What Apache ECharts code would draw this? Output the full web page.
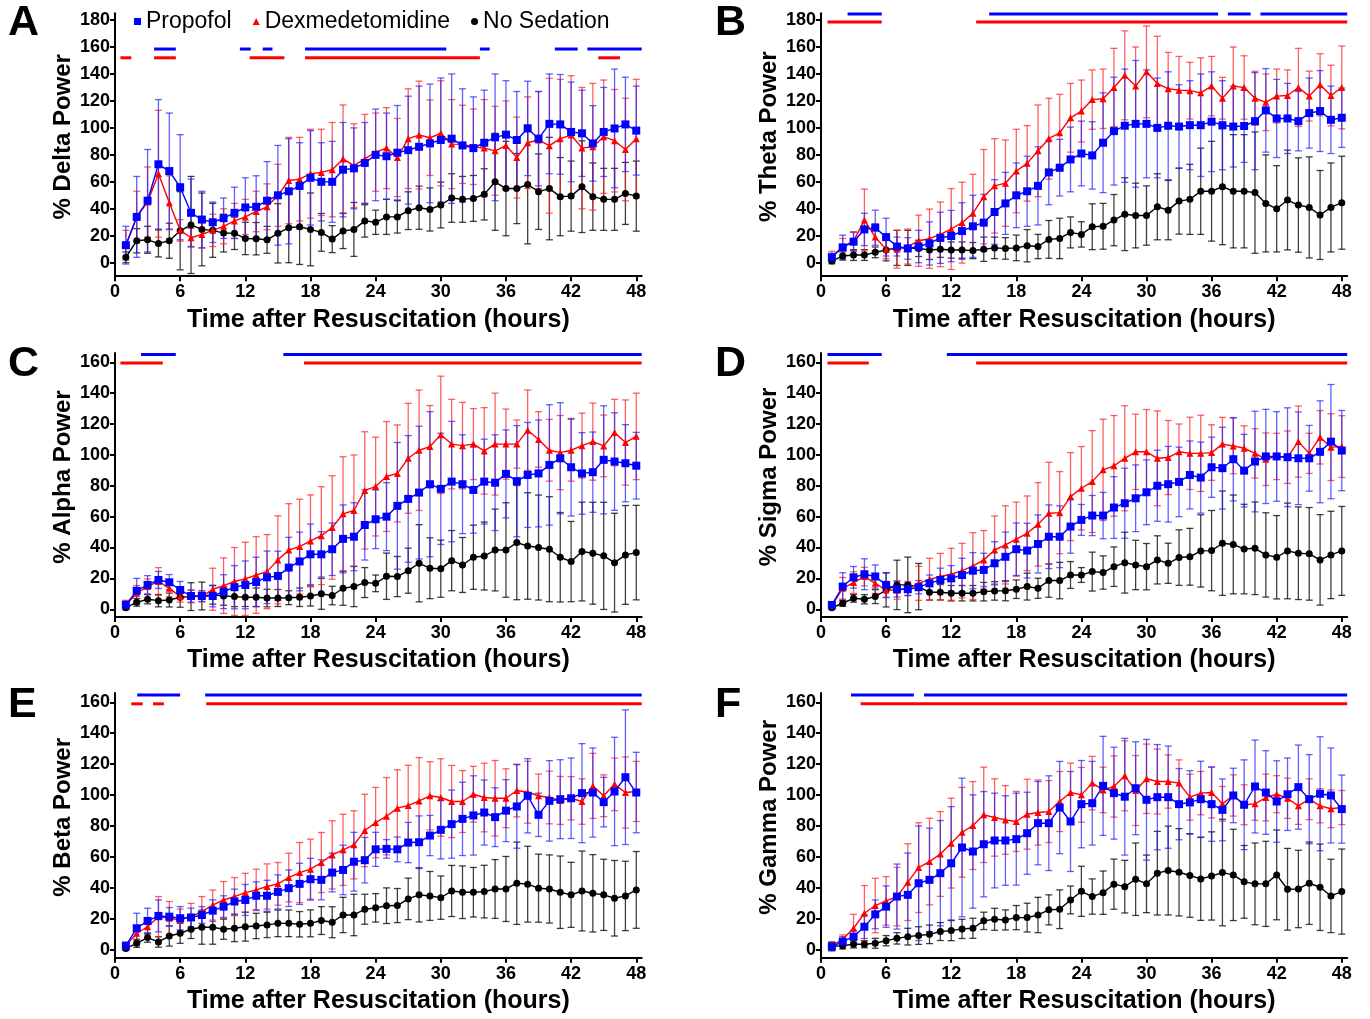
<!DOCTYPE html>
<html><head><meta charset="utf-8">
<script src="https://cdn.jsdelivr.net/npm/echarts@6/dist/echarts.min.js"></script>
<style>html,body{margin:0;padding:0;background:#fff}#c{width:1370px;height:1019px}</style>
</head><body><div id="c"></div>
<script>
const hours = [1,2,3,4,5,6,7,8,9,10,11,12,13,14,15,16,17,18,19,20,21,22,23,24,25,26,27,28,29,30,31,32,33,34,35,36,37,38,39,40,41,42,43,44,45,46,47,48];
const xTicks = [0,6,12,18,24,30,36,42,48];
const yTicks180 = [0,20,40,60,80,100,120,140,160,180];
const yTicks160 = [0,20,40,60,80,100,120,140,160];

// Panel A: Delta
const deltaProp = [13,34,46,73,68,56,37,32,30,33,37,41,41.5,46,50,53,57,63,60,60,69,70,74,80,79,81.6,83.5,86,88.5,91,92,87,85,89,93,95,91,99.6,92,103,102.6,97,96,88.5,97,99.6,102.6,98];
const deltaPropSD = [14,30,38,48,43,39,25,21,15,15,19,22,23,29,37,39,32,35,29,30,35,30,30,34,32,35,40,45,44,46,48,42,38,39,47,40,36,35,35,37,37,37,32,28,33,44,35,33];
const deltaDex = [13,34,45,66,44.5,24,18.5,21,24,27,31,34,38,41.5,50,61,62,66,67,69,77,72,77,82,85,78,92,94.7,92.7,96,88,87.8,86,85,83,87,78,89,91,86.8,92,94.7,85,86,93.5,90.5,84,92];
const deltaDexSD = [11,19,26,47,20,8,7,10,12,13,13,13,15,17,23,32,31,33,32,35,40,31,33,29,30,29,37,40,28,39,33,29,28,36,33,33,30,34,36,50,44,44,45,47,42,38,38,44];
const deltaNoSed = [4,16.3,17,14.3,16.3,23.7,28,24.7,24,22,21.8,18,17.8,17,21.8,26,26.7,24.7,22.5,17.5,23.5,24.7,31,30,34,34,38.6,40.8,39.5,42.8,48,47,47.7,50.7,60,55,55,58,52.7,55,49,49.4,56.4,49,47,47,51.4,49.4];
const deltaNoSedSD = [4,9,10,10,13,29,36,27,20,14,12,12,12,10,22,26,28,27,14,10,13,20,12,9,13,12,14,16,16,17,18,17,17,19,36,35,26,44,28,38,29,26,34,25,23,23,23,26];
const deltaSigProp = [[3.6,5.6],[11.5,12.5],[13.6,14.5],[17.5,30.5],[33.6,34.5],[40.5,42.6],[43.5,48.5]];
const deltaSigDex = [[0.5,1.5],[3.6,5.6],[12.4,15.6],[17.5,33.6],[44.5,46.5]];

// Panel B: Theta
const thetaProp = [4,11.4,15.6,24.7,26,19,12,10.6,12,14.3,18.5,19.8,23.5,27,29.7,37.6,44,50,53,57,67,70.5,76.6,81,79.6,89,97.6,101.6,103,103,100,101.6,101,102,102,104.6,102,101,101.4,105,113,107,107,105,111,112.5,106,107.5];
const thetaPropSD = [3,9,7,12,13,14,7,8,12,16,19,19,21,23,21,24,23,24,26,29,24,21,24,24,25,37,40,42,47,40,37,40,31,33,38,37,33,30,27,36,31,29,26,22,26,30,25,22];
const thetaDex = [4.5,12,16,31.6,19,10,10,12,16.3,17.8,21,25,29.7,36.6,49,57,59,68,73.7,83,92,96.4,107.5,112.5,121,121.6,130,139,131,141.6,133,129,128,127.6,126,131,122,131,130,122,119,123.6,124,130,123.6,132,124,130];
const thetaDexSD = [4,6,7,23,10,7,14,13,19,22,24,30,30,29,35,35,32,31,28,34,30,28.5,25.5,23,22,22,29,33,29,34,35,27,25,21,26,22,15.5,29,23.5,20,21,20,19,29,18.5,23,22.5,30.7];
const thetaNoSed = [1.2,5,5.7,5.7,7.7,9.4,11,11,10.6,9.4,10,9.4,9.4,9,10,11,10.6,11,12.6,12,17.3,18,22.5,21,26.7,27,31.6,36,35,35,41.5,39,45.7,47,53,53,56.4,53,53,52,44,40,46.5,42.8,41,35.4,41,44.5];
const thetaNoSedSD = [2,3,4,4,4,8,13,13,6,7,6,6,6,6,9,8,8,9.5,12,9,14,15,11.5,9.4,17,17,19,27,24,22,24.5,22,24.5,26,32,37,43,42,42,45,36,32,37,35,37.5,33,33,34.5];
const thetaSigProp = [[2.45,5.6],[15.5,36.6],[37.5,39.6],[40.5,48.5]];
const thetaSigDex = [[0.6,5.6],[14.3,48.5]];

// Panel C: Alpha
const alphaProp = [2.8,12,15.8,19,17.5,12.5,8.6,8.6,8.6,11.4,14.3,15.8,17.7,20.7,21.6,27,31,35.6,35.6,38.9,45.6,47,54.6,58.3,60,67,71.5,75.6,81,78,82.7,81,77.3,82.7,82,87.7,83,87,88,93.5,97.8,92,88,88.8,96.8,95.7,94.6,93];
const alphaPropSD = [2.5,8,6,5.5,5,5.5,4,3.5,7,11,14,15.5,16,17,16,19.6,19,19.6,14.7,17,22,22,22.7,19,22,41,41,43,47,36,39,32,28,27.5,31,28.5,36,34,34.6,39,36,31.6,26.4,26,35,31.6,25,21.6];
const alphaDex = [2.8,10.4,14.7,18,13.6,8.2,8.2,8.2,13,15.3,18,19.7,22.2,24.4,32,38.4,40.6,44.3,47.7,53,61.8,64,77,79.5,86,88,97.8,103,105.4,113,107,106,107,102.6,107,107,107,116,110,103,101.5,103,106,108.6,105.8,114.5,108,112];
const alphaDexSD = [3,5,5,9,5.5,3.5,4,3.5,13.6,18,22,23.7,24.8,24,28.5,30,30.7,29.8,31.7,33.5,37,36,38,32,35.6,31.4,35.6,39,26.6,38,29,28,23,28,33,22.7,15.6,26,18,20,24,20,21,25,20,21.5,27.6,28];
const alphaNoSed = [1,4.5,6.5,5.6,6,7.8,8.2,8.6,9.3,8.6,8.2,7.8,7.8,7.3,7.3,7.5,7.8,8.6,10,8.9,13.6,14.7,17.3,16.8,21.4,21.2,25,29.8,26.6,26.3,31.5,28.7,33.7,34.5,38.4,38.4,43.2,41,40,38.9,33.7,30.9,37.4,36.3,34.6,30.2,35.2,36.7];
const alphaNoSedSD = [1,2.5,3,4,4.5,6.5,9,9,6,6,6.5,6,6,5.7,5.5,4.5,6,6.5,10,6,11,13,9.7,5.4,15,13,14.6,25,19.7,18.5,19.5,17.8,20.8,22,26.5,30.6,37,34.5,34,34,29,26,32,33,34.7,32,32,30.6];
const alphaSigProp = [[2.4,5.6],[15.5,48.5]];
const alphaSigDex = [[0.5,4.4],[17.4,48.5]];

// Panel D: Sigma
const sigmaProp = [2.8,14.7,20.7,22.7,21.2,15.8,13,13,14.3,16.8,19,20,22.2,25,25.5,29.8,34,38.9,38,42.3,47,47,53.6,57.9,60.7,60.7,65.9,68.7,71.9,75.8,80,81,82.5,87,85.3,92,91.4,97.2,89.8,95.7,99,99,98.5,97.8,97.8,102,108.6,102.8];
const sigmaPropSD = [2,9,7,10,7.5,8,5,4,4.3,5.4,7.6,8.3,10.8,11.7,10.8,14,16,17,17.7,18.8,20.6,20,17.3,10,13,15,20,22.7,21.6,21,23,24.5,22.5,22,23,19.5,26.5,27,23.5,32.6,30.5,29,32,30,21.3,33,37,26];
const sigmaDex = [2.4,13.6,17.3,21.2,16.8,12.5,12.5,13.4,16.8,19.4,21.2,22.7,25,28,32,38.4,41.7,45.4,49.2,55,62.2,62.6,73,78.4,82.7,90.3,92.9,97.8,102,102,97.8,98.3,102,101,101,101.5,107,105.8,104.3,101,97.2,99,98.5,108.6,101,111.4,105,105.4];
const sigmaDexSD = [2,7,7,6,6.5,5,6,4.6,11,13.6,15,16.8,17.7,21.6,19,22,25.3,24,24.2,27,33,26.6,28.5,27,33,32.8,32.6,34,24.4,27.4,30.7,24,18,23.4,24.7,18,17.3,18,14.5,16,17,15,17,23,13,17.3,21.6,20];
const sigmaNoSed = [1,3.9,7.1,6.5,8.2,12.5,15.8,15.8,14.7,11,11,10.4,10.4,10.4,11.4,11.9,12,13,14.7,13.6,18.6,18.6,22.2,22.2,24.4,23.8,27.6,30.2,28.7,27.6,32,29.8,33.5,34,37.8,38,42.8,42,39,39.5,35.2,33.7,37.8,36.3,35.9,32,35.2,37.8];
const sigmaNoSedSD = [1,2,2.5,3,4.5,11,16,18,15,5,5,5,5,5,6,6,6.5,6,8.7,6.5,10.8,11.8,8.7,4.8,12.6,10.8,12.8,19.7,16,15,15.6,13,18,18.4,23.4,26,33.8,32,29,30,27.3,27,31,30,30,29.3,28.3,28.8];
const sigmaSigProp = [[0.6,5.6],[11.6,48.5]];
const sigmaSigDex = [[0.6,4.4],[14.3,48.5]];

// Panel E: Beta
const betaProp = [2.8,14,18.75,22,21.5,20.5,21,22.6,25.4,28,31.3,32.3,35,35,37.5,39.9,42.7,45.7,45.3,50,51.7,57,58,65,65.3,65,69.4,69.6,73.9,77.6,81.3,84.7,86.9,88.8,85.8,90,92.7,99.6,87.3,96.3,97.4,98,101.3,101.7,95.5,102.4,111.6,101.7];
const betaPropSD = [2,9.7,8.2,10.3,5.9,7.5,6,5.4,7,7,8,10,9,10,11,11.8,13.3,13.5,12.9,12.5,16,19,14.7,11,6,8,13,17,13,18.8,22,23.7,25.6,21,19,20,27,24,14,26,25.5,26,32,28.8,16,35,43.5,26];
const betaDex = [2.8,10.8,15,21.5,20.5,19.4,21.5,24.8,29,32.3,34.5,37,38.8,41,42.7,46.8,50,52.2,56.5,61.4,64.7,67.9,77.2,82.3,86.4,91.6,93.3,96.3,99.6,98.5,95.9,95.9,100.6,98.5,98,98,103,101.9,99.6,98.5,96.6,98,95.9,106,99.6,107,101.7,102.4];
const betaDexSD = [2,4.7,4.8,13,10.8,7,8.6,9.7,9.7,11.9,12.3,12.5,13.4,14.6,13.8,15.7,19.4,19.4,19.4,22,23,22,23.4,22.7,25,24.8,26,28,22,25,23.3,20,18,22.2,24.4,19,17,20,14,17,15.5,14,14.7,21,13.5,17,23,19.4];
const betaNoSed = [1,4.3,8,5.2,9,10.8,13.4,14.7,14.7,13.4,14,15,15.5,16.2,17.2,17.2,16.6,17.2,19,17.9,22.6,22.6,26.3,27.2,28.6,28.7,33,35.6,34.9,33.8,38.1,37.3,37.3,37.7,39.4,39.4,43.1,42.5,39.9,39.4,37.3,35.6,38.1,36.6,35.6,33.4,34.9,38.8];
const betaNoSedSD = [1,2.6,3,3.4,6.5,6.5,6,11,11,6.5,8.6,9.3,8.2,8.2,8.6,8.6,8.2,8.7,9,10,11.4,13.4,9.7,9.2,11.5,11,13.4,17.5,15.8,14,16.5,17,16,17,19,21,26.6,24.5,22,22,23.4,21,25.8,25,23,24.4,22.4,24.8];
const betaSigProp = [[2.05,6],[8.3,48.5]];
const betaSigDex = [[1.5,2.55],[3.5,4.5],[8.4,48.5]];

// Panel F: Gamma
const gammaProp = [2.2,5.4,8.6,15,23,28,34.5,35.6,43.1,45.3,49.6,56,66.2,63.6,68.3,70.7,70.7,71.6,75.4,81.9,81.9,92,83,94.2,94.8,106,101.3,99,104.5,97,98.7,98.7,94.2,95.3,97.4,94.2,90.5,99.8,93.8,105.6,101.7,95.9,100.6,105.2,97.4,100.9,99.8,91];
const gammaPropSD = [2,3.2,4,7.6,9.3,13.4,21,27,37,33.4,34,36.6,44.8,36.6,34,30.6,28.9,29.7,26.5,26.9,30.6,29.8,32.3,28.2,27,32,29.7,37.7,30,39,34,33,23,20.5,24.5,24,20,17.6,29,30,27,26.3,23.4,27.2,28.8,36.8,30.7,22];
const gammaDex = [2.8,6.9,14,23.7,28.7,31.7,34.5,43.8,53.2,57.1,62,69,76,80.4,87.3,85.6,84,83,87.7,88.8,89.4,95.9,101.7,100.2,107.8,103.4,105.6,112.5,103,110.6,108.8,108.8,107.8,98.7,101.3,101.7,94.4,99.8,93.8,94.4,98.5,100.6,98,93.1,97.4,93.1,91.2,92];
const gammaDexSD = [2.6,2.8,9,17.9,17.6,15.7,18.9,24.8,29,28,27.4,29,29,28.4,30.8,25,22.2,19.4,22.6,21,20,19.4,19,17.7,17.3,14.7,19.8,22.6,22.6,22.4,21,17.2,15,14.9,14,16.4,11.2,13.3,12.9,10.6,15.1,12,13,12,13.2,11,12.2,11];
const gammaNoSed = [2.2,2.8,3.7,3.7,4.3,6,7.5,8.6,9.3,10.1,11.9,12.5,13.6,14,18.8,19.8,19.4,20.9,20.9,22.6,25.9,26.3,32.3,37.9,34.5,37,42.5,40.9,45.7,42.7,49.6,51.3,50.2,48.1,45.9,47.8,50,48.5,44,42.7,42.7,48.5,39.2,39.4,43.1,40.5,34.9,37.7];
const gammaNoSedSD = [2.8,2.2,2.4,2.3,3.2,3.3,3.7,5.4,5.7,6,5.8,6.5,6.2,6.5,5.6,7.1,6.5,7.8,9.3,11.4,9.7,12.5,9,16.2,11.4,14,16.2,17,23.4,18.6,27,28.7,28.2,27,26.8,28.5,34.4,29.5,23.5,26.4,27.5,29,26.4,25,26.6,27.9,23.7,27.5];
const gammaSigProp = [[2.76,8.56],[9.5,48.5]];
const gammaSigDex = [[3.65,48.5]];

const BLUE = '#0000ff', RED = '#ff0000', BLACK = '#000000';
const FONT = '"Liberation Sans", Arial, sans-serif';

const panels = [
  {letter:'A', title:'% Delta Power', p:deltaProp, ps:deltaPropSD, d:deltaDex, ds:deltaDexSD, n:deltaNoSed, ns:deltaNoSedSD, sp:deltaSigProp, sd:deltaSigDex, sigY:[158.5,152], ymin:-10, ymax:185, yt:yTicks180, left:115, top:13.3, width:526.7, height:262.9, lx:8, ly:2},
  {letter:'B', title:'% Theta Power', p:thetaProp, ps:thetaPropSD, d:thetaDex, ds:thetaDexSD, n:thetaNoSed, ns:thetaNoSedSD, sp:thetaSigProp, sd:thetaSigDex, sigY:[184.5,178.5], ymin:-10, ymax:185, yt:yTicks180, left:821, top:13.3, width:526.2, height:262.9, lx:715, ly:2},
  {letter:'C', title:'% Alpha Power', p:alphaProp, ps:alphaPropSD, d:alphaDex, ds:alphaDexSD, n:alphaNoSed, ns:alphaNoSedSD, sp:alphaSigProp, sd:alphaSigDex, sigY:[165,159.5], ymin:-5, ymax:166, yt:yTicks160, left:115, top:353, width:526.7, height:264, lx:8, ly:343},
  {letter:'D', title:'% Sigma Power', p:sigmaProp, ps:sigmaPropSD, d:sigmaDex, ds:sigmaDexSD, n:sigmaNoSed, ns:sigmaNoSedSD, sp:sigmaSigProp, sd:sigmaSigDex, sigY:[165,159.5], ymin:-5, ymax:166, yt:yTicks160, left:821, top:353, width:526.2, height:264, lx:715, ly:343},
  {letter:'E', title:'% Beta Power', p:betaProp, ps:betaPropSD, d:betaDex, ds:betaDexSD, n:betaNoSed, ns:betaNoSedSD, sp:betaSigProp, sd:betaSigDex, sigY:[164.7,159], ymin:-5, ymax:166, yt:yTicks160, left:115, top:693, width:526.7, height:264.7, lx:8, ly:684},
  {letter:'F', title:'% Gamma Power', p:gammaProp, ps:gammaPropSD, d:gammaDex, ds:gammaDexSD, n:gammaNoSed, ns:gammaNoSedSD, sp:gammaSigProp, sd:gammaSigDex, sigY:[164.7,159], ymin:-5, ymax:166, yt:yTicks160, left:821, top:693, width:526.2, height:264.7, lx:715, ly:684}
];

function errSeries(i, vals, sds, color) {
  return {
    type:'custom', xAxisIndex:i, yAxisIndex:i, silent:true, z:2, clip:false,
    data: hours.map((h,k)=>[h, vals[k], sds[k]]),
    renderItem: function(params, api) {
      const x = api.value(0), m = api.value(1), s = api.value(2);
      const t = api.coord([x, m + s]), b = api.coord([x, m - s]);
      const w = 3.5;
      const st = {stroke:color, lineWidth:1.3, fill:null};
      return {type:'group', children:[
        {type:'line', shape:{x1:t[0], y1:t[1], x2:b[0], y2:b[1]}, style:st},
        {type:'line', shape:{x1:t[0]-w, y1:t[1], x2:t[0]+w, y2:t[1]}, style:st},
        {type:'line', shape:{x1:b[0]-w, y1:b[1], x2:b[0]+w, y2:b[1]}, style:st}
      ]};
    }
  };
}
function sigSeries(i, segs, yv, color) {
  return {
    type:'custom', xAxisIndex:i, yAxisIndex:i, silent:true, z:5, clip:false,
    data: segs.map(s=>[s[0], s[1]]),
    renderItem: function(params, api) {
      const a = api.coord([api.value(0), yv]), b = api.coord([api.value(1), yv]);
      return {type:'line', shape:{x1:a[0], y1:a[1], x2:b[0], y2:b[1]}, style:{stroke:color, lineWidth:3}};
    }
  };
}
function lineSeries(i, name, vals, color, symbol, size) {
  return {
    type:'line', name:name, xAxisIndex:i, yAxisIndex:i, z:4,
    data: hours.map((h,k)=>[h, vals[k]]),
    symbol:symbol, symbolSize:size, showSymbol:true,
    lineStyle:{color:color, width:1.4}, itemStyle:{color:color}
  };
}

const grid = [], xAxis = [], yAxis = [], series = [], graphic = [];
panels.forEach((P, i) => {
  grid.push({left:P.left, top:P.top, width:P.width, height:P.height, containLabel:false, outerBoundsMode:'none'});
  xAxis.push({
    type:'value', gridIndex:i, min:0, max:48.5,
    axisLine:{onZero:false, lineStyle:{color:'#000', width:2}},
    axisTick:{customValues:xTicks, length:5, lineStyle:{color:'#000', width:2}},
    axisLabel:{customValues:xTicks, color:'#000', fontFamily:FONT, fontWeight:'bold', fontSize:18, margin:7},
    splitLine:{show:false},
    name:'Time after Resuscitation (hours)', nameLocation:'middle', nameGap:31,
    nameTextStyle:{color:'#000', fontFamily:FONT, fontWeight:'bold', fontSize:25}
  });
  yAxis.push({
    type:'value', gridIndex:i, min:P.ymin, max:P.ymax,
    axisLine:{show:true, onZero:false, lineStyle:{color:'#000', width:2}},
    axisTick:{show:true, customValues:P.yt, length:5, lineStyle:{color:'#000', width:2}},
    axisLabel:{customValues:P.yt, color:'#000', fontFamily:FONT, fontWeight:'bold', fontSize:18, margin:5},
    splitLine:{show:false},
    name:P.title, nameLocation:'middle', nameGap:40,
    nameTextStyle:{color:'#000', fontFamily:FONT, fontWeight:'bold', fontSize:24, padding:[0,0,0,16]}
  });
  series.push(errSeries(i, P.n, P.ns, 'rgba(0,0,0,0.75)'));
  series.push(errSeries(i, P.d, P.ds, 'rgba(255,30,30,0.7)'));
  series.push(errSeries(i, P.p, P.ps, 'rgba(30,30,255,0.7)'));
  series.push(lineSeries(i, 'No Sedation', P.n, BLACK, 'circle', 7));
  series.push(lineSeries(i, 'Dexmedetomidine', P.d, RED, 'triangle', 7));
  series.push(lineSeries(i, 'Propofol', P.p, BLUE, 'rect', 8));
  series.push(sigSeries(i, P.sp, P.sigY[0], BLUE));
  series.push(sigSeries(i, P.sd, P.sigY[1], RED));
  graphic.push({type:'text', left:P.lx, top:P.ly, style:{text:P.letter, font:'bold 43px ' + FONT, fill:'#000'}});
});

const chart = echarts.init(document.getElementById('c'), null, {renderer:'canvas'});
chart.setOption({
  animation:false,
  backgroundColor:'#fff',
  grid, xAxis, yAxis, series, graphic,
  legend:{
    data:[{name:'Propofol', icon:'rect'}, {name:'Dexmedetomidine', icon:'triangle'}, {name:'No Sedation', icon:'circle'}],
    left:129, top:5, itemWidth:7, itemHeight:7, itemGap:21, selectedMode:false,
    textStyle:{color:'#000', fontFamily:FONT, fontSize:23}
  }
});
</script>
</body></html>
